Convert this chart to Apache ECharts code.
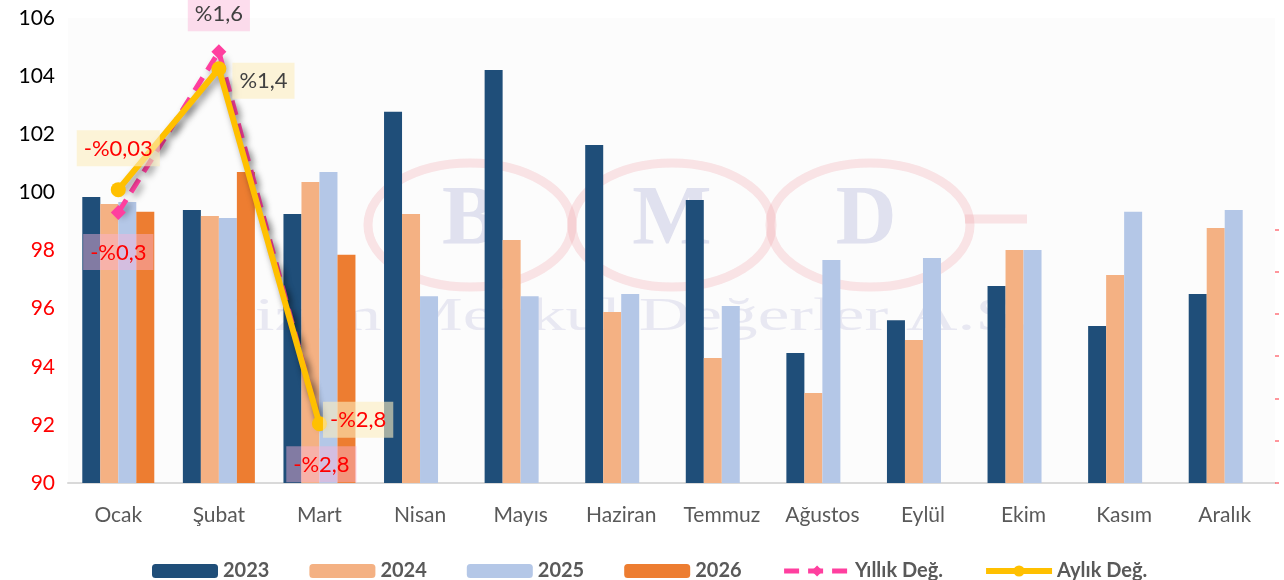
<!DOCTYPE html>
<html lang="tr">
  <head>
    <meta charset="UTF-8" />
    <title>eCharts</title>
    <script src="https://cdn.jsdelivr.net/npm/echarts@6/dist/echarts.min.js"></script>
    <style>
      html, body { margin: 0; padding: 0; background: #fff; }
    </style>
  </head>
  <body>
    <div id="main" style="width: 1284px; height: 580px"></div>
    <script type="text/javascript">
      const categories = ["Ocak", "Şubat", "Mart", "Nisan", "Mayıs", "Haziran", "Temmuz", "Ağustos", "Eylül", "Ekim", "Kasım", "Aralık"];
      const v2023 = [99.84, 99.39, 99.26, 102.77, 104.21, 101.63, 99.74, 94.47, 95.6, 96.78, 95.4, 96.5];
      const v2024 = [99.6, 99.19, 100.36, 99.26, 98.36, 95.88, 94.3, 93.1, 94.92, 98.02, 97.16, 98.77];
      const v2025 = [99.67, 99.12, 100.7, 96.43, 96.43, 96.5, 96.09, 97.67, 97.74, 98.02, 99.33, 99.39];
      const v2026 = [99.33, 100.7, 97.85, null, null, null, null, null, null, null, null, null];
      // percent changes, drawn on the hidden right axis
      const yillik = [-0.3, 1.6, -2.8];
      const aylik = [-0.03, 1.4, -2.8];
      const yillikText = ["-%0,3", "%1,6", "-%2,8"];
      const aylikText = ["-%0,03", "%1,4", "-%2,8"];
      const leftTicks = [90, 92, 94, 96, 98, 100, 102, 104, 106];

      const font = "Lato";

      function lineData(values, texts, positions, bg) {
        return values.map((v, i) => ({
          value: v,
          label: {
            show: true,
            formatter: texts[i],
            position: positions[i][0],
            distance: positions[i][1],
            offset: positions[i][2] || [0, 0],
            color: v < 0 ? "#ff0000" : "#404040",
            backgroundColor: bg,
            padding: [8, 7, 6, 7],
            fontSize: 22,
            fontFamily: font,
          },
        }));
      }

      const barSeries = [
        ["2023", v2023, "#1f4e79"],
        ["2024", v2024, "#f4b183"],
        ["2025", v2025, "#b4c7e7"],
        ["2026", v2026, "#ed7d31"],
      ].map(([name, data, color]) => ({
        name: name,
        type: "bar",
        data: data,
        barWidth: 18,
        barGap: "0%",
        z: 2,
        itemStyle: { color: color },
      }));

      const ring = "rgba(240,160,170,0.28)";
      const mark = "rgba(195,198,225,0.5)";

      let myChart = echarts.init(document.getElementById("main"));

      let options = {
        backgroundColor: "#ffffff",
        animation: false,
        textStyle: { fontFamily: font },
        grid: {
          left: 68, right: 9, top: 18, bottom: 97,
          show: true, backgroundColor: "#fcfcfc", borderWidth: 0,
        },
        legend: {
          left: 147, top: 556,
          itemWidth: 66, itemHeight: 14, itemGap: 40,
          textStyle: { fontSize: 20, fontWeight: "bold", color: "#595959", fontFamily: font },
          data: [
            "2023", "2024", "2025", "2026",
            { name: "Yıllık Değ.", lineStyle: { width: 5 } },
            { name: "Aylık Değ.", lineStyle: { width: 6 } },
          ],
        },
        graphic: [
          { type: "ellipse", z: 1, silent: true, shape: { cx: 470, cy: 225, rx: 102, ry: 62 },
            style: { fill: "none", stroke: ring, lineWidth: 9 } },
          { type: "ellipse", z: 1, silent: true, shape: { cx: 672, cy: 225, rx: 100, ry: 62 },
            style: { fill: "none", stroke: ring, lineWidth: 9 } },
          { type: "ellipse", z: 1, silent: true, shape: { cx: 870, cy: 225, rx: 100, ry: 62 },
            style: { fill: "none", stroke: ring, lineWidth: 9 } },
          { type: "line", z: 1, silent: true, shape: { x1: 965, y1: 219, x2: 1027, y2: 219 },
            style: { stroke: ring, lineWidth: 9 } },
          { type: "text", z: 1, silent: true, x: 470, y: 222,
            style: { text: "B", font: "bold 84px 'Liberation Serif'", fill: mark, align: "center", verticalAlign: "middle" } },
          { type: "text", z: 1, silent: true, x: 672, y: 222,
            style: { text: "M", font: "bold 84px 'Liberation Serif'", fill: mark, align: "center", verticalAlign: "middle" } },
          { type: "text", z: 1, silent: true, x: 866, y: 222,
            style: { text: "D", font: "bold 84px 'Liberation Serif'", fill: mark, align: "center", verticalAlign: "middle" } },
          { type: "text", z: 1, silent: true, x: 620, y: 318, scaleX: 1.55,
            style: { text: "Bizim Menkul Değerler A.Ş.", font: "46px 'Liberation Serif'", fill: "rgba(200,200,225,0.38)", align: "center", verticalAlign: "middle" } },
        ],
        xAxis: {
          type: "category",
          data: categories,
          axisLine: { onZero: false, lineStyle: { color: "#d9d9d9", width: 2 } },
          axisTick: { show: false },
          axisLabel: { fontSize: 21, color: "#595959", margin: 22, fontFamily: font },
        },
        yAxis: [
          {
            type: "value",
            min: leftTicks[0],
            max: leftTicks[leftTicks.length - 1],
            interval: 2,
            splitLine: { show: false },
            axisLine: { show: false },
            axisTick: { show: false },
            axisLabel: {
              fontSize: 21,
              margin: 13,
              fontFamily: font,
              color: (val) => (Number(val) >= 100 ? "#000000" : "#ff0000"),
            },
          },
          {
            type: "value",
            min: -3.5,
            max: 2,
            interval: 0.5,
            position: "right",
            splitLine: { show: false },
            axisLine: { show: false },
            axisLabel: { show: false },
            axisTick: {
              show: true,
              length: 4,
              lineStyle: { color: "rgba(255,80,90,0.6)", width: 2 },
              customValues: [-3.5, -3, -2.5, -2, -1.5, -1, -0.5],
            },
          },
        ],
        series: barSeries.concat([
          {
            name: "Yıllık Değ.",
            type: "line",
            yAxisIndex: 1,
            z: 4,
            symbol: "diamond",
            symbolSize: 15,
            itemStyle: { color: "#ff3f9f" },
            lineStyle: {
              color: "#ff3f9f", width: 5, type: [15, 9],
              shadowColor: "rgba(0,0,0,0.4)", shadowBlur: 7, shadowOffsetX: 3, shadowOffsetY: 4,
            },
            data: lineData(yillik, yillikText,
              [["bottom", 14], ["top", 13], ["bottom", 15, [2, 0]]],
              "rgba(250,180,215,0.45)"),
          },
          {
            name: "Aylık Değ.",
            type: "line",
            yAxisIndex: 1,
            z: 5,
            symbol: "circle",
            symbolSize: 15,
            itemStyle: { color: "#ffc000" },
            lineStyle: {
              color: "#ffc000", width: 6,
              shadowColor: "rgba(0,0,0,0.4)", shadowBlur: 7, shadowOffsetX: 3, shadowOffsetY: 4,
            },
            data: lineData(aylik, aylikText,
              [["top", 16], ["right", 6, [0, 12]], ["right", -4, [0, -4]]],
              "rgba(251,236,190,0.6)"),
          },
        ]),
      };

      myChart.setOption(options);
    </script>
  </body>
</html>
